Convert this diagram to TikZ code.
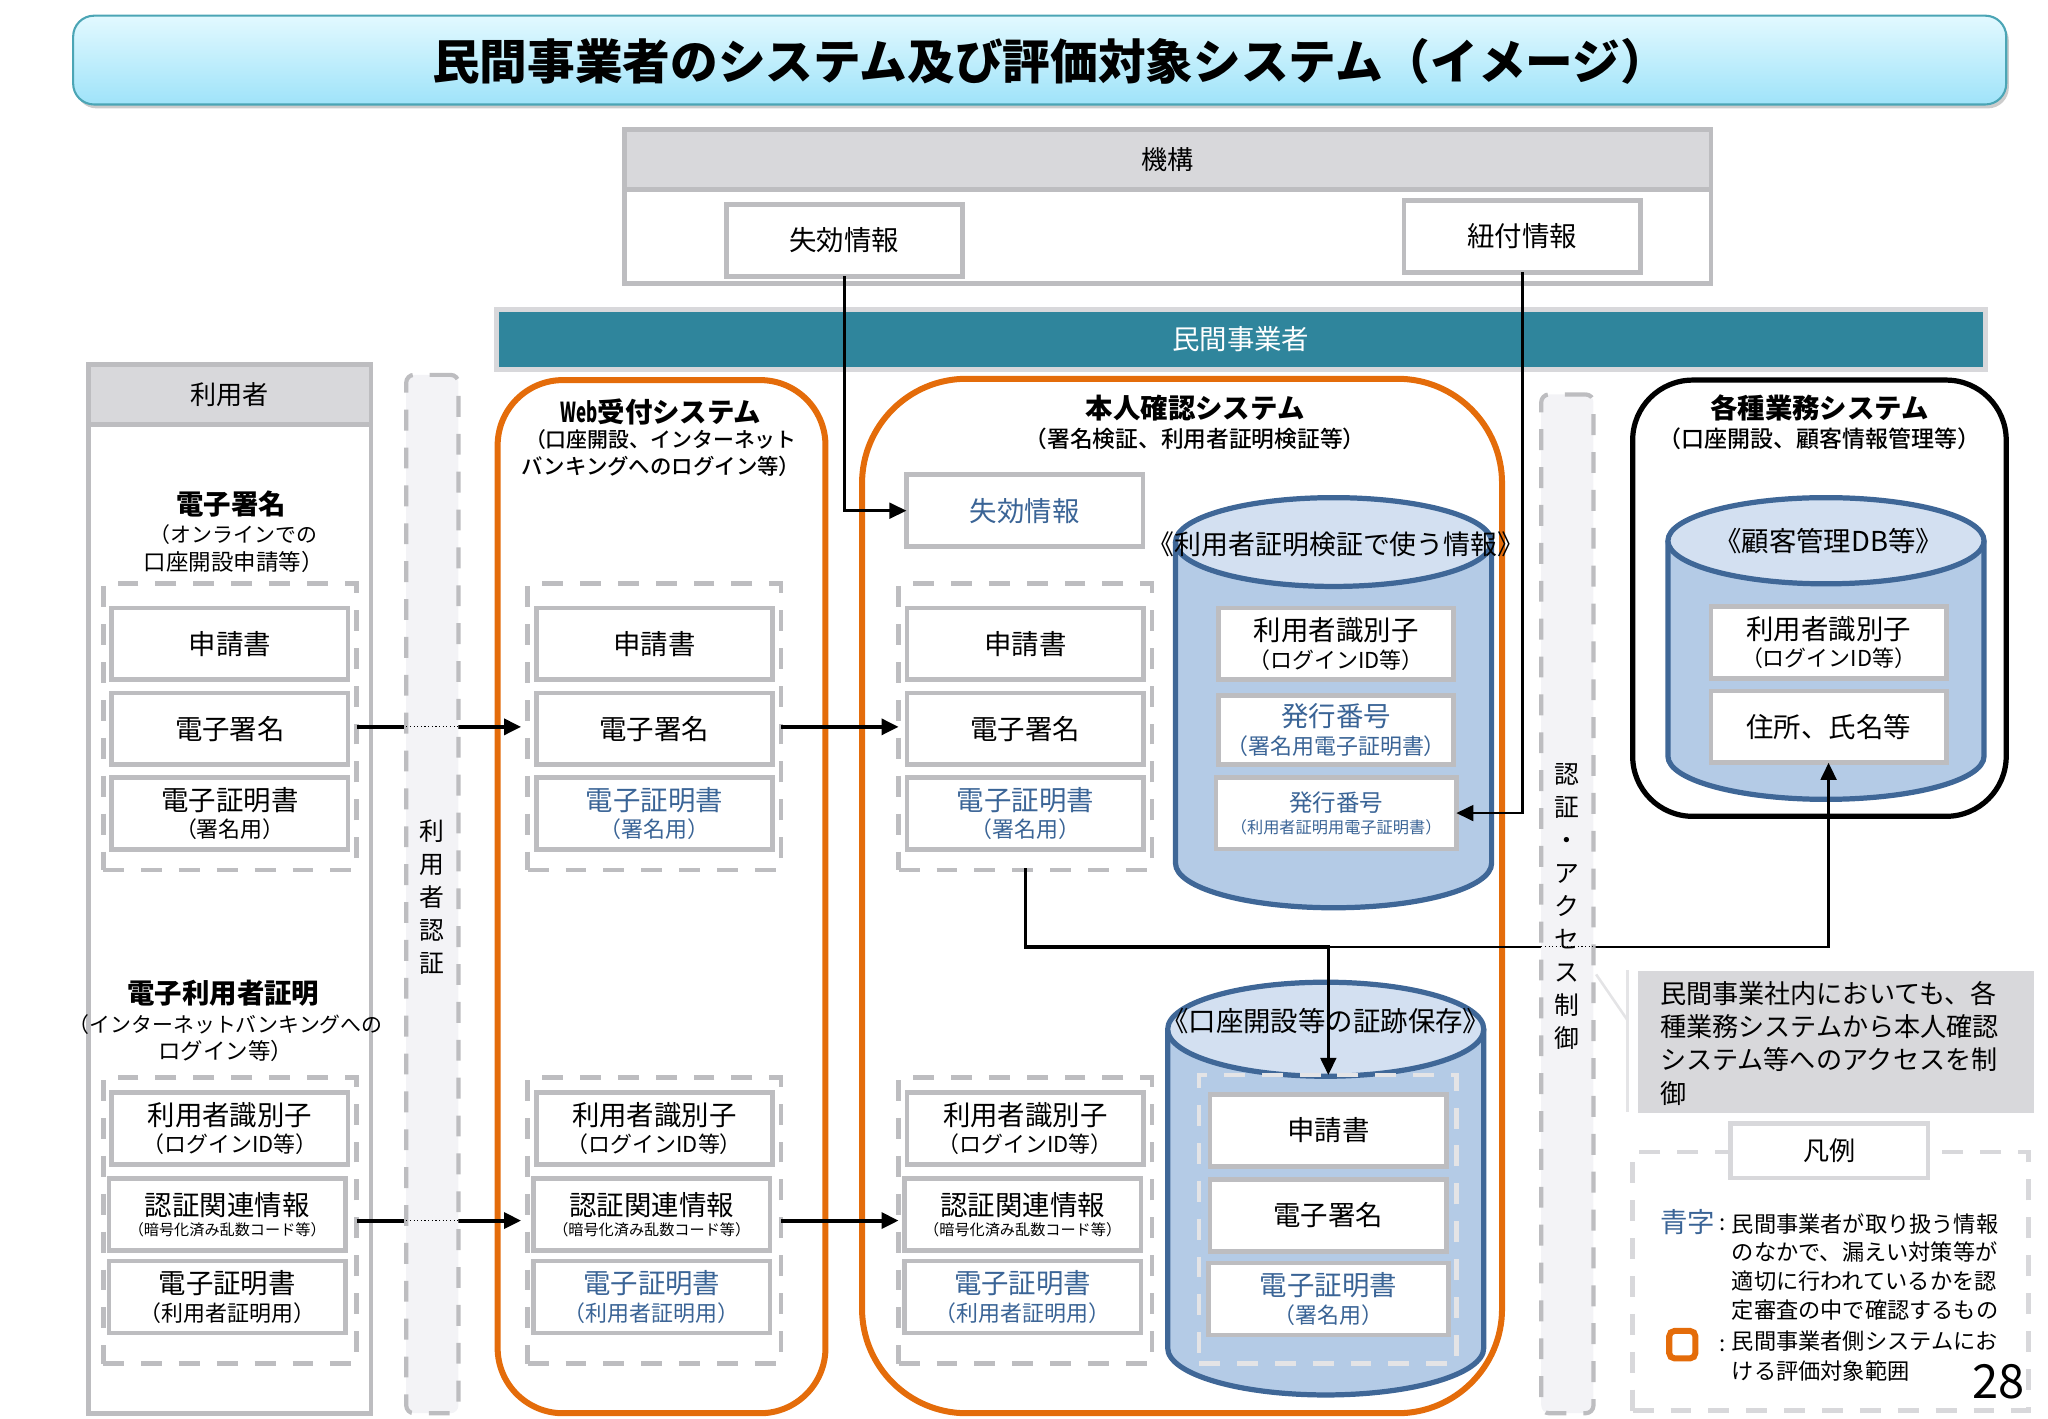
\documentclass[tikz,border=0pt]{standalone}
\usepackage{fontspec}
\setmainfont{Noto Sans CJK JP}
\newfontfamily\medf{Noto Sans CJK JP Medium}
\usetikzlibrary{arrows.meta,shadows}
\definecolor{gl}{HTML}{BDBDC0}
\definecolor{gf}{HTML}{D8D8DB}
\definecolor{gc}{HTML}{E4E4E6}
\definecolor{bandf}{HTML}{F3F3F6}
\definecolor{org}{HTML}{E46C0A}
\definecolor{teal}{HTML}{2F859C}
\definecolor{tb}{HTML}{4BA5B5}
\definecolor{tt}{HTML}{E2F9FF}
\definecolor{tu}{HTML}{9FE3F9}
\definecolor{bt}{HTML}{3A6496}
\definecolor{cylf}{HTML}{B4CBE6}
\definecolor{cylt}{HTML}{D3E0F1}
\definecolor{cyls}{HTML}{3F6797}
\newcommand{\fa}{\fontsize{10.5}{12}\selectfont}
\newcommand{\fb}{\fontsize{8.4}{10}\selectfont}
\newcommand{\fc}{\fontsize{5.8}{7}\selectfont}
\newcommand{\fs}[1]{\fontsize{#1}{10.5}\selectfont}
\newcommand{\tl}[2]{#1\\[-1.5pt]{\fb #2}}
\newcommand{\tlc}[2]{#1\\[-4pt]{\fc #2}}
\newcommand{\cyl}[5]{% cx, top cy, bottom cy, x radius-units, y radius-units
  \fill[cylf] ({#1-#4},#2) -- ({#1-#4},#3) arc[start angle=180,end angle=0,x radius=#4,y radius=#5] -- ({#1+#4},#2) -- cycle;
  \draw[cylline] ({#1-#4},#2) -- ({#1-#4},#3) arc[start angle=180,end angle=0,x radius=#4,y radius=#5] -- ({#1+#4},#2);
  \draw[cylline,fill=cylt] (#1,#2) ellipse[x radius=#4,y radius=#5];
}
\tikzset{
  txt/.style={inner sep=0pt,outer sep=0pt,align=center,font=\fa},
  box/.style={draw=gl,line width=1.8pt,fill=white,inner sep=0pt,outer sep=0pt,align=center,font=\fa,minimum width=90.5pt,minimum height=27.5pt},
  grp/.style={draw=gl,line width=1.8pt,dash pattern=on 8pt off 6.5pt,inner sep=0pt,outer sep=0pt,minimum width=97pt,minimum height=109.5pt},
  band/.style={draw=gl,fill=bandf,line width=1.6pt,dash pattern=on 8pt off 6.5pt,rounded corners=3pt,inner sep=0pt,outer sep=0pt,minimum width=20pt},
  sys/.style={draw=org,line width=2.3pt,inner sep=0pt,outer sep=0pt},
  cylline/.style={draw=cyls,line width=2pt},
  conn/.style={draw=black,line width=1pt,-{Triangle[length=6.5pt,width=6pt]}},
  thickconn/.style={conn,line width=1.5pt,-{Triangle[length=6.5pt,width=6pt]}},
  hdg/.style={inner sep=0pt,outer sep=0pt,align=center,font=\fs{8}},
  vert/.style={inner sep=0pt,outer sep=0pt,align=center,font=\fontsize{9.5}{12.6}\selectfont},
  ltxt/.style={inner sep=0pt,outer sep=0pt,align=left,anchor=north west},
}
\begin{document}
\begin{tikzpicture}[x=0.5pt,y=-0.5pt]
\useasboundingbox (0,0) rectangle (1568,1086);
% title
\node[draw=tb,line width=0.8pt,rounded corners=8pt,top color=tt,bottom color=tu,drop shadow={shadow xshift=1pt,shadow yshift=-1.5pt,opacity=.4},minimum width=740pt,minimum height=34pt,inner sep=0pt] (title) at (796,46) {};
\node[txt,font=\fontsize{18.25}{20}\selectfont\bfseries] (titletxt) at (804,47) {民間事業者のシステム及び評価対象システム（イメージ）};
% kikou
\node[draw=gl,line width=1.8pt,fill=white,minimum width=416pt,minimum height=59pt,inner sep=0pt] (kikou) at (894,158) {};
\node[draw=gl,line width=1.8pt,fill=gf,minimum width=416pt,minimum height=23pt,inner sep=0pt,font=\fontsize{10}{12}\selectfont] (kikouh) at (894,122) {機構};
\node[box] (kr) at (646.5,184) {失効情報};
\node[box] (kl) at (1165.5,181) {紐付情報};
% minkan bar
\node[draw=gf,line width=2pt,fill=teal,minimum width=570pt,minimum height=23pt,inner sep=0pt,text=white,font=\fontsize{10.5}{12}\selectfont] (minkan) at (950,260) {民間事業者};
% user column
\node[draw=gl,line width=1.8pt,fill=white,minimum width=108pt,minimum height=401.5pt,inner sep=0pt] (usercol) at (176,680.5) {};
\node[draw=gl,line width=1.8pt,fill=gf,minimum width=108pt,minimum height=23pt,inner sep=0pt,font=\fontsize{10}{12}\selectfont] (userh) at (176,302) {利用者};
\node[hdg] (uh1) at (177,407) {{\fa\bfseries 電子署名}\\[0.5pt]{\fs{8} （オンラインでの}\\{\fs{8.6} 口座開設申請等）}};
\node[hdg] (uh2) at (171,781.5) {{\fa\bfseries 電子利用者証明}\\[0.5pt]{\fs{8} （インターネットバンキングへの}\\{\fs{8.6} ログイン等）}};
% systems
\node[sys,rounded corners=25pt,minimum width=125.5pt,minimum height=395.5pt] (web) at (506.5,686.5) {};
\node[sys,rounded corners=40pt,minimum width=245pt,minimum height=396pt] (honnin) at (905,686) {};
\node[draw=black,line width=2pt,rounded corners=23pt,minimum width=143pt,minimum height=167pt,inner sep=0pt,outer sep=0pt] (kaku) at (1393,458) {};
\node[hdg] (webt) at (506,335) {{\fa\bfseries \scalebox{0.62}[1]{Web}受付システム}\\[-1pt]{\fs{8}\medf （口座開設、インターネット}\\{\fs{8.2}\medf バンキングへのログイン等）}};
\node[hdg] (hont) at (915,323.5) {{\fa\bfseries 本人確認システム}\\[0.5pt]{\fs{8.7}\medf （署名検証、利用者証明検証等）}};
\node[hdg] (kakut) at (1393,323.5) {{\fa\bfseries 各種業務システム}\\[0.5pt]{\fs{8.8}\medf （口座開設、顧客情報管理等）}};
% groups left
\node[grp] (g1a) at (176,556.5) {};
\node[grp] (g2a) at (501,556.5) {};
\node[grp] (g3a) at (785,556.5) {};
\node[grp] (g1b) at (176,934.5) {};
\node[grp] (g2b) at (501,934.5) {};
\node[grp] (g3b) at (785,934.5) {};
% boxes: user
\node[box] (u1) at (176,493) {申請書};
\node[box] (u2) at (176,558) {電子署名};
\node[box] (u3) at (176,623) {\tl{電子証明書}{（署名用）}};
\node[box] (u4) at (176,864) {\tl{利用者識別子}{（ログインID等）}};
\node[box] (u5) at (174,930) {\tlc{認証関連情報}{（暗号化済み乱数コード等）}};
\node[box] (u6) at (174,993) {\tl{電子証明書}{（利用者証明用）}};
% boxes: web
\node[box] (w1) at (501,493) {申請書};
\node[box] (w2) at (501,558) {電子署名};
\node[box,text=bt] (w3) at (501,623) {\tl{電子証明書}{（署名用）}};
\node[box] (w4) at (501,864) {\tl{利用者識別子}{（ログインID等）}};
\node[box] (w5) at (499,930) {\tlc{認証関連情報}{（暗号化済み乱数コード等）}};
\node[box,text=bt] (w6) at (499,993) {\tl{電子証明書}{（利用者証明用）}};
% boxes: honnin
\node[box,text=bt] (hr) at (784.5,391) {失効情報};
\node[box] (h1) at (785,493) {申請書};
\node[box] (h2) at (785,558) {電子署名};
\node[box,text=bt] (h3) at (785,623) {\tl{電子証明書}{（署名用）}};
\node[box] (h4) at (785,864) {\tl{利用者識別子}{（ログインID等）}};
\node[box] (h5) at (783,930) {\tlc{認証関連情報}{（暗号化済み乱数コード等）}};
\node[box,text=bt] (h6) at (783,993) {\tl{電子証明書}{（利用者証明用）}};
% cylinder 1
\cyl{1021}{415}{661}{121}{34}
\node[txt,font=\fontsize{10.3}{12}\selectfont] (c1t) at (1023,417) {《利用者証明検証で使う情報》};
\node[box,minimum width=90pt,minimum height=27.5pt] (c1a) at (1023,493) {\tl{利用者識別子}{（ログインID等）}};
\node[box,minimum width=90pt,minimum height=26.5pt,text=bt] (c1b) at (1023,559) {\tl{発行番号}{（署名用電子証明書）}};
\node[box,minimum width=92pt,minimum height=27.5pt,text=bt] (c1c) at (1023,622.5) {{\fontsize{9}{11}\selectfont 発行番号}\\[-3.5pt]{\fontsize{6.2}{8}\selectfont（利用者証明用電子証明書）}};
% cylinder 2
\cyl{1015}{788}{1032}{121}{36}
\node[txt,font=\fontsize{10.5}{12}\selectfont] (c2t) at (1015,782) {《口座開設等の証跡保存》};
\node[grp,draw=gf!70,minimum width=98.5pt,minimum height=110.5pt] (c2g) at (1016.5,933.5) {};
\node[box] (c2a) at (1017,865.5) {申請書};
\node[box] (c2b) at (1017,930.5) {電子署名};
\node[box,text=bt,minimum width=92pt] (c2c) at (1017,994.5) {\tl{電子証明書}{（署名用）}};
% cylinder 3
\cyl{1398}{414}{579}{121}{33}
\node[txt,font=\fontsize{10.5}{12}\selectfont] (c3t) at (1400,414) {《顧客管理DB等》};
\node[box,minimum width=90pt,minimum height=27.5pt] (c3a) at (1400,492) {\tl{利用者識別子}{（ログインID等）}};
\node[box,minimum width=90pt,minimum height=27.5pt] (c3b) at (1400,556.5) {住所、氏名等};
% connectors
\coordinate (bus) at (1017,725);
\draw[conn] (kr.south) |- (hr.west);
\draw[conn] (kl.south) |- (c1c.east);
\draw[thickconn,shorten >=2.5pt] (g1a.east) -- (g2a.west);
\draw[thickconn] (g2a.east) -- (g3a.west);
\draw[thickconn,shorten >=2.5pt] (g1b.east) -- (g2b.west);
\draw[thickconn] (g2b.east) -- (g3b.west);
\draw[line width=1.2pt,line cap=rect] (g3a.south) -- (g3a.south |- bus) -- (bus);
\draw[conn] (bus) -- (bus -| c3b.south) -- (c3b.south);
\draw[conn] (bus) -- (bus |- c2g.north);
% bands
\node[band,minimum height=397.5pt] (b1) at (331,684.5) {};
\node[vert] (b1t) at (331,687) {利\\用\\者\\認\\証};
\node[band,minimum height=390pt] (b2) at (1200,692) {};
\node[vert] (b2t) at (1200,694) {認\\証\\・\\ア\\ク\\セ\\ス\\制\\御};
\draw[densely dotted,line width=0.4pt] (b1.west |- g1a.east) -- (b1.east |- g1a.east);
\draw[densely dotted,line width=0.4pt] (b1.west |- g1b.east) -- (b1.east |- g1b.east);
\draw[densely dotted,line width=0.4pt] (b2.west |- bus) -- (b2.east |- bus);
% note
\coordinate (calltip) at (1222,746);
\coordinate (callj) at (1246,781);
\coordinate (callt) at (1246,743);
\coordinate (callb) at (1246,851);
\draw[gc,line width=1pt] (calltip) -- (callj);
\draw[gc,line width=1pt] (callt) -- (callb);
\node[fill=gf,minimum width=151.5pt,minimum height=54.5pt,inner sep=0pt,outer sep=0pt] (note) at (1405.5,798) {};
\node[ltxt,font=\fontsize{10}{12.8}\selectfont] (notet) at (1271,751) {民間事業社内においても、各\\種業務システムから本人確認\\システム等へのアクセスを制\\御};
% legend
\node[grp,draw=gf,minimum width=151.5pt,minimum height=99pt] (leg) at (1401.5,981) {};
\node[box,draw=gf,minimum width=75.5pt,minimum height=21pt,font=\fontsize{10}{12}\selectfont] (legt) at (1400.5,881) {凡例};
\node[txt,text=bt] (blue) at (1292,936) {青字};
\node[txt,font=\fontsize{8.5}{11}\selectfont] (colon1) at (1319,938) {:};
\node[ltxt,font=\fontsize{8.5}{11}\selectfont] (legt1) at (1326,929) {民間事業者が取り扱う情報\\のなかで、漏えい対策等が\\適切に行われているかを認\\定審査の中で確認するもの};
\node[draw=org,line width=2.3pt,rounded corners=2pt,minimum width=10pt,minimum height=10.5pt,inner sep=0pt] (legs) at (1288,1029.5) {};
\node[txt,font=\fontsize{8.5}{11}\selectfont] (colon2) at (1319,1030) {:};
\node[ltxt,font=\fontsize{8.5}{11.5}\selectfont] (legt2) at (1326,1019) {民間事業者側システムにお\\ける評価対象範囲};
\node[txt,font=\fontsize{18}{20}\selectfont] (page) at (1530,1058) {28};
\end{tikzpicture}
\end{document}
